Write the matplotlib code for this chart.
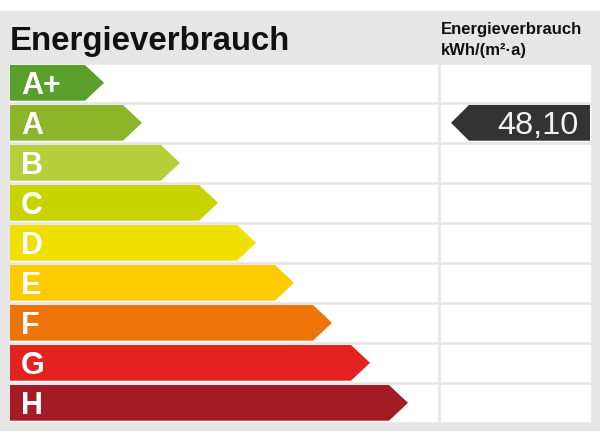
import matplotlib.pyplot as plt
from matplotlib.patches import Polygon, Rectangle

# Daten
klassen = ['A+', 'A', 'B', 'C', 'D', 'E', 'F', 'G', 'H']
farben = ['#5a9f2b', '#8cb52a', '#b7cf3a', '#c8d400', '#efe000',
          '#fdcb00', '#ec7408', '#e2231f', '#a31b24']
wert_text = '48,10'
wert_klasse = 'A'
titel = 'Energieverbrauch'
einheit = ['Energieverbrauch', 'kWh/(m²·a)']

plt.rcParams['font.family'] = ['Liberation Sans', 'DejaVu Sans']

fig = plt.figure(figsize=(6, 4.43), dpi=100)
ax = fig.add_axes([0, 0, 1, 1])
ax.set_xlim(0, 600)
ax.set_ylim(443, 0)
ax.axis('off')

grau = '#e6e6e6'
ax.add_patch(Rectangle((0, 11), 600, 419, color=grau, zorder=0))

ax.text(10, 50, titel, fontsize=23.8, fontweight='bold', color='#111111',
        ha='left', va='baseline')
ax.text(441, 34, einheit[0], fontsize=12, fontweight='bold', color='#111111',
        ha='left', va='baseline')
ax.text(441, 55, einheit[1], fontsize=12, fontweight='bold', color='#111111',
        ha='left', va='baseline')

top0 = 65
schritt = 40
hoehe = 35.7
for i, (k, c) in enumerate(zip(klassen, farben)):
    y0 = top0 + schritt * i
    y1 = y0 + hoehe
    ym = (y0 + y1) / 2
    # weisse Felder
    ax.add_patch(Rectangle((10, y0), 427, hoehe, color='white', zorder=1))
    ax.add_patch(Rectangle((441, y0), 149, hoehe, color='white', zorder=1))
    # Pfeil
    xe = 85 + 38 * i
    ax.add_patch(Polygon([(10, y0), (xe, y0), (xe + 19, ym), (xe, y1), (10, y1)],
                         closed=True, color=c, lw=0, zorder=2))
    ax.text(21, y1 - 6.5, k, fontsize=22, fontweight='bold', color='white',
            ha='left', va='baseline', zorder=3)
    if k == wert_klasse:
        ax.add_patch(Polygon([(451, ym), (469, y0), (590, y0), (590, y1), (469, y1)],
                             closed=True, color='#333333', lw=0, zorder=2))
        ax.text(579, ym, wert_text, fontsize=23.3, color='#f2f2f2',
                ha='right', va='center_baseline', zorder=3)

fig.savefig('out.png', dpi=100)
